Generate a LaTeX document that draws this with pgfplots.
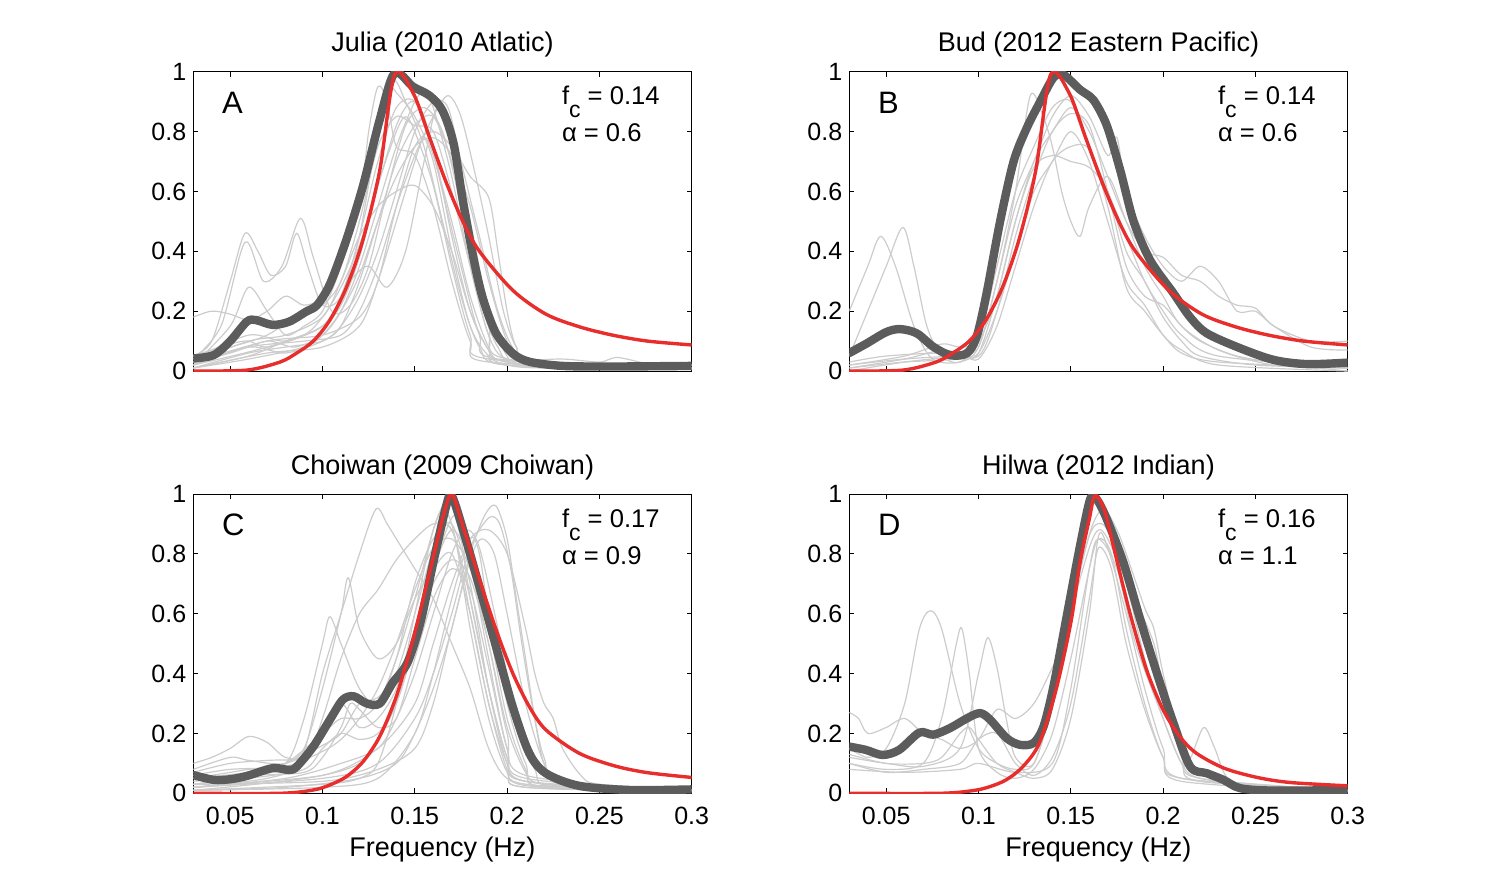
\documentclass[border=0pt]{standalone}
\usepackage{pgfplots}
\pgfplotsset{compat=1.18}
\usepackage{fontspec}
\setmainfont{Liberation Sans}
\definecolor{lgray}{RGB}{204,204,204}
\definecolor{dgray}{RGB}{92,92,92}
\definecolor{mred}{RGB}{232,45,45}
\pgfplotsset{
  panel/.style={
    scale only axis, width=249.2pt, height=149.65pt,
    xmin=0.03, xmax=0.3, ymin=0, ymax=1,
    xtick={0.05,0.1,0.15,0.2,0.25,0.3},
    xticklabels={0.05,0.1,0.15,0.2,0.25,0.3},
    ytick={0,0.2,0.4,0.6,0.8,1},
    yticklabels={0,0.2,0.4,0.6,0.8,1},
    tick align=inside, major tick length=2.5pt,
    tick style={black, line width=0.5pt},
    axis line style={black, line width=0.5pt},
    /pgf/number format/assume math mode=true,
    ticklabel style={font=\fontsize{12.5}{14}\selectfont},
    xticklabel style={yshift=-3.5pt},
    title style={at={(0.5,1)}, anchor=base, yshift=4pt, font=\fontsize{13.5}{16}\selectfont},
    xlabel style={at={(axis description cs:0.5,0)}, anchor=base, yshift=-31.5pt, font=\fontsize{13.5}{16}\selectfont},
    clip=true,
  },
  toppanel/.style={panel, xticklabels={}},
  g/.style={color=lgray, line width=0.6pt, smooth, no markers},
  dk/.style={color=dgray, line width=4.2pt, smooth, no markers, line join=round, line cap=round},
  rd/.style={color=mred, line width=1.7pt, smooth, no markers},
}
\newcommand{\annot}[3]{%
  \node[anchor=base west, inner sep=0, font=\fontsize{15.5}{17}\selectfont] at (rel axis cs:0.057,0.861) {#1};
  \node[anchor=base west, inner sep=0, font=\fontsize{12.8}{14}\selectfont] at (rel axis cs:0.739,0.889) {f\raisebox{-6.5pt}{\fontsize{11.5}{12}\selectfont c} = #2};
  \node[anchor=base west, inner sep=0, font=\fontsize{12.8}{14}\selectfont] at (rel axis cs:0.739,0.766) {α = #3};
}
\begin{document}
\begin{tikzpicture}
\path[use as bounding box] (0,0) rectangle (744.5pt,-446.5pt);

% ---------------- Panel A ----------------
\begin{axis}[toppanel, at={(96.65pt,-185.5pt)}, anchor=south west, title={Julia (2010 Atlatic)}]
\addplot[g] coordinates {(0.03,0.18)(0.04,0.2)(0.05,0.19)(0.06,0.17)(0.07,0.2)(0.08,0.25)(0.09,0.22)(0.1,0.25)(0.11,0.4)(0.12,0.6)(0.13,0.85)(0.135,0.96)(0.14,0.93)(0.15,0.85)(0.16,0.7)(0.17,0.4)(0.18,0.15)(0.19,0.05)(0.2,0.02)(0.22,0.01)(0.3,0.01)};
\addplot[g] coordinates {(0.03,0.05)(0.04,0.1)(0.05,0.3)(0.058,0.46)(0.065,0.4)(0.072,0.32)(0.08,0.35)(0.086,0.46)(0.092,0.35)(0.1,0.22)(0.11,0.25)(0.12,0.45)(0.13,0.7)(0.14,0.88)(0.15,0.9)(0.16,0.75)(0.17,0.45)(0.18,0.2)(0.19,0.07)(0.2,0.03)(0.25,0.01)(0.3,0.01)};
\addplot[g] coordinates {(0.03,0.04)(0.045,0.15)(0.058,0.43)(0.068,0.3)(0.078,0.35)(0.088,0.51)(0.095,0.38)(0.105,0.2)(0.115,0.22)(0.125,0.35)(0.135,0.6)(0.145,0.82)(0.155,0.88)(0.165,0.8)(0.175,0.55)(0.185,0.25)(0.195,0.08)(0.21,0.02)(0.3,0.01)};
\addplot[g] coordinates {(0.03,0.02)(0.05,0.15)(0.06,0.28)(0.07,0.2)(0.08,0.12)(0.09,0.15)(0.1,0.2)(0.11,0.35)(0.12,0.55)(0.125,0.8)(0.13,0.95)(0.135,0.9)(0.14,0.75)(0.15,0.72)(0.16,0.55)(0.17,0.3)(0.18,0.1)(0.19,0.03)(0.3,0.01)};
\addplot[g] coordinates {(0.03,0.01)(0.06,0.05)(0.08,0.1)(0.1,0.15)(0.11,0.25)(0.12,0.45)(0.13,0.8)(0.138,0.97)(0.145,0.9)(0.155,0.75)(0.165,0.5)(0.175,0.25)(0.185,0.08)(0.2,0.02)(0.3,0.005)};
\addplot[g] coordinates {(0.03,0.01)(0.06,0.06)(0.08,0.08)(0.1,0.1)(0.11,0.15)(0.12,0.25)(0.13,0.4)(0.14,0.6)(0.15,0.8)(0.16,0.9)(0.168,0.88)(0.175,0.7)(0.185,0.45)(0.195,0.2)(0.205,0.06)(0.22,0.02)(0.3,0.01)};
\addplot[g] coordinates {(0.03,0.02)(0.06,0.08)(0.09,0.1)(0.11,0.12)(0.12,0.2)(0.13,0.35)(0.14,0.55)(0.15,0.72)(0.16,0.85)(0.168,0.92)(0.175,0.85)(0.183,0.65)(0.19,0.45)(0.198,0.2)(0.205,0.08)(0.215,0.03)(0.3,0.02)};
\addplot[g] coordinates {(0.03,0.03)(0.07,0.1)(0.1,0.12)(0.12,0.18)(0.13,0.3)(0.14,0.55)(0.15,0.75)(0.16,0.8)(0.17,0.75)(0.18,0.65)(0.19,0.58)(0.195,0.4)(0.2,0.2)(0.205,0.08)(0.215,0.03)(0.3,0.02)};
\addplot[g] coordinates {(0.03,0.03)(0.06,0.1)(0.08,0.12)(0.1,0.18)(0.11,0.3)(0.12,0.45)(0.13,0.55)(0.14,0.6)(0.15,0.62)(0.16,0.55)(0.17,0.4)(0.18,0.2)(0.19,0.07)(0.2,0.02)(0.3,0.01)};
\addplot[g] coordinates {(0.03,0.02)(0.07,0.08)(0.1,0.15)(0.115,0.3)(0.125,0.35)(0.135,0.28)(0.145,0.4)(0.155,0.7)(0.162,0.88)(0.17,0.8)(0.18,0.5)(0.19,0.2)(0.2,0.05)(0.21,0.02)(0.3,0.01)};
\addplot[g] coordinates {(0.03,0.05)(0.05,0.08)(0.07,0.12)(0.09,0.2)(0.1,0.22)(0.11,0.3)(0.12,0.5)(0.13,0.75)(0.14,0.85)(0.15,0.82)(0.16,0.8)(0.17,0.6)(0.18,0.35)(0.19,0.12)(0.2,0.04)(0.23,0.04)(0.25,0.03)(0.26,0.045)(0.28,0.02)(0.3,0.02)};
\addplot[g] coordinates {(0.03,0.01)(0.07,0.06)(0.1,0.08)(0.12,0.15)(0.13,0.3)(0.14,0.5)(0.15,0.7)(0.155,0.78)(0.16,0.72)(0.17,0.5)(0.18,0.25)(0.19,0.08)(0.2,0.02)(0.3,0.01)};
\addplot[g] coordinates {(0.03,0.03)(0.05,0.06)(0.07,0.1)(0.085,0.08)(0.1,0.12)(0.11,0.2)(0.12,0.35)(0.13,0.55)(0.14,0.75)(0.15,0.9)(0.155,0.93)(0.16,0.88)(0.17,0.65)(0.18,0.35)(0.19,0.12)(0.2,0.03)(0.3,0.01)};
\addplot[g] coordinates {(0.03,0.02)(0.06,0.08)(0.08,0.06)(0.1,0.1)(0.11,0.15)(0.12,0.3)(0.13,0.5)(0.14,0.7)(0.15,0.82)(0.16,0.85)(0.17,0.7)(0.18,0.45)(0.19,0.15)(0.2,0.04)(0.3,0.01)};
\addplot[g] coordinates {(0.03,0.04)(0.06,0.12)(0.08,0.1)(0.1,0.15)(0.11,0.22)(0.12,0.38)(0.13,0.62)(0.14,0.8)(0.145,0.85)(0.15,0.8)(0.16,0.62)(0.17,0.35)(0.18,0.12)(0.19,0.04)(0.3,0.01)};
\addplot[g] coordinates {(0.03,0.01)(0.06,0.04)(0.09,0.08)(0.1,0.12)(0.11,0.2)(0.12,0.32)(0.13,0.5)(0.14,0.65)(0.15,0.75)(0.16,0.78)(0.17,0.72)(0.18,0.55)(0.19,0.3)(0.2,0.1)(0.21,0.03)(0.3,0.01)};
\addplot[g] coordinates {(0.03,0.05)(0.05,0.09)(0.06,0.1)(0.07,0.08)(0.09,0.12)(0.1,0.18)(0.11,0.28)(0.12,0.42)(0.13,0.62)(0.14,0.82)(0.148,0.9)(0.155,0.85)(0.165,0.6)(0.175,0.35)(0.185,0.12)(0.195,0.04)(0.3,0.01)};
\addplot[dk] coordinates {(0.03,0.042)(0.041,0.053)(0.05,0.10)(0.059,0.165)(0.064,0.17)(0.073,0.154)(0.082,0.165)(0.091,0.198)(0.097,0.22)(0.104,0.29)(0.113,0.44)(0.122,0.62)(0.131,0.84)(0.139,0.995)(0.149,0.95)(0.158,0.92)(0.165,0.87)(0.171,0.76)(0.176,0.57)(0.182,0.37)(0.187,0.24)(0.194,0.126)(0.203,0.059)(0.212,0.031)(0.23,0.017)(0.257,0.015)(0.3,0.017)};
\addplot[rd] coordinates {(0.03,0)(0.059,0.003)(0.077,0.03)(0.086,0.06)(0.095,0.10)(0.104,0.17)(0.113,0.28)(0.122,0.44)(0.131,0.67)(0.139,0.99)(0.149,0.93)(0.158,0.78)(0.167,0.63)(0.176,0.50)(0.185,0.40)(0.203,0.27)(0.221,0.19)(0.239,0.148)(0.257,0.12)(0.276,0.10)(0.3,0.087)};
\annot{A}{0.14}{0.6}
\end{axis}

% ---------------- Panel B ----------------
\begin{axis}[toppanel, at={(424.65pt,-185.5pt)}, anchor=south west, title={Bud (2012 Eastern Pacific)}]
\addplot[g] coordinates {(0.03,0.2)(0.04,0.35)(0.047,0.45)(0.055,0.35)(0.065,0.15)(0.075,0.04)(0.09,0.03)(0.1,0.08)(0.11,0.3)(0.12,0.6)(0.128,0.92)(0.135,0.85)(0.14,0.75)(0.145,0.6)(0.15,0.5)(0.155,0.45)(0.16,0.55)(0.17,0.65)(0.18,0.5)(0.19,0.35)(0.2,0.25)(0.21,0.15)(0.23,0.07)(0.26,0.02)(0.3,0.01)};
\addplot[g] coordinates {(0.03,0.05)(0.04,0.2)(0.05,0.35)(0.059,0.48)(0.065,0.35)(0.072,0.15)(0.08,0.05)(0.09,0.03)(0.1,0.1)(0.11,0.35)(0.12,0.6)(0.13,0.75)(0.14,0.88)(0.15,0.9)(0.16,0.75)(0.17,0.6)(0.18,0.45)(0.19,0.3)(0.2,0.2)(0.21,0.12)(0.23,0.05)(0.3,0.01)};
\addplot[g] coordinates {(0.03,0.01)(0.06,0.04)(0.08,0.07)(0.09,0.06)(0.1,0.08)(0.11,0.3)(0.12,0.55)(0.13,0.7)(0.14,0.85)(0.15,0.92)(0.16,0.85)(0.17,0.72)(0.175,0.78)(0.18,0.6)(0.19,0.45)(0.2,0.35)(0.21,0.3)(0.22,0.35)(0.23,0.3)(0.24,0.2)(0.25,0.2)(0.26,0.15)(0.28,0.08)(0.3,0.07)};
\addplot[g] coordinates {(0.03,0.02)(0.06,0.05)(0.08,0.09)(0.09,0.08)(0.1,0.1)(0.11,0.25)(0.12,0.5)(0.13,0.7)(0.14,0.8)(0.15,0.88)(0.16,0.8)(0.17,0.65)(0.18,0.5)(0.19,0.4)(0.2,0.38)(0.21,0.32)(0.22,0.3)(0.23,0.25)(0.24,0.22)(0.25,0.21)(0.26,0.15)(0.28,0.1)(0.3,0.1)};
\addplot[g] coordinates {(0.03,0.0)(0.06,0.03)(0.09,0.05)(0.1,0.06)(0.11,0.2)(0.12,0.4)(0.13,0.6)(0.14,0.7)(0.15,0.8)(0.16,0.7)(0.17,0.5)(0.18,0.3)(0.19,0.22)(0.2,0.12)(0.21,0.07)(0.23,0.02)(0.3,0.0)};
\addplot[g] coordinates {(0.03,0.01)(0.06,0.03)(0.09,0.04)(0.1,0.06)(0.11,0.25)(0.12,0.5)(0.13,0.68)(0.14,0.72)(0.15,0.7)(0.16,0.68)(0.17,0.6)(0.18,0.4)(0.19,0.3)(0.2,0.18)(0.21,0.1)(0.22,0.05)(0.25,0.02)(0.3,0.01)};
\addplot[g] coordinates {(0.03,0.03)(0.05,0.05)(0.08,0.06)(0.1,0.05)(0.11,0.2)(0.12,0.45)(0.13,0.65)(0.14,0.8)(0.15,0.86)(0.16,0.82)(0.17,0.6)(0.18,0.35)(0.19,0.25)(0.2,0.22)(0.21,0.15)(0.22,0.1)(0.24,0.05)(0.27,0.02)(0.3,0.0)};
\addplot[g] coordinates {(0.03,0.02)(0.06,0.04)(0.09,0.05)(0.1,0.04)(0.11,0.15)(0.12,0.35)(0.13,0.55)(0.14,0.7)(0.15,0.75)(0.16,0.74)(0.17,0.55)(0.18,0.28)(0.19,0.2)(0.2,0.12)(0.21,0.06)(0.23,0.03)(0.3,0.01)};
\addplot[dk] coordinates {(0.03,0.06)(0.0394,0.092)(0.05,0.13)(0.0575,0.14)(0.0665,0.126)(0.0755,0.081)(0.0846,0.053)(0.0936,0.059)(0.099,0.115)(0.1044,0.26)(0.1117,0.50)(0.119,0.70)(0.126,0.81)(0.1334,0.90)(0.1406,0.98)(0.146,0.99)(0.155,0.94)(0.1623,0.905)(0.1695,0.82)(0.1768,0.67)(0.184,0.50)(0.193,0.37)(0.2056,0.26)(0.2146,0.18)(0.2237,0.126)(0.2418,0.076)(0.26,0.037)(0.278,0.023)(0.3,0.028)};
\addplot[rd] coordinates {(0.03,0)(0.059,0.003)(0.077,0.03)(0.086,0.06)(0.095,0.10)(0.104,0.17)(0.113,0.28)(0.122,0.44)(0.131,0.67)(0.139,0.99)(0.149,0.93)(0.158,0.78)(0.167,0.63)(0.176,0.50)(0.185,0.40)(0.203,0.27)(0.221,0.19)(0.239,0.148)(0.257,0.12)(0.276,0.10)(0.3,0.087)};
\annot{B}{0.14}{0.6}
\end{axis}

% ---------------- Panel C ----------------
\begin{axis}[panel, at={(96.65pt,-396.65pt)}, anchor=south west, title={Choiwan (2009 Choiwan)}, xlabel={Frequency (Hz)}]
\addplot[g] coordinates {(0.03,0.1)(0.04,0.12)(0.05,0.15)(0.06,0.19)(0.07,0.17)(0.08,0.12)(0.09,0.14)(0.1,0.4)(0.11,0.6)(0.12,0.8)(0.129,0.95)(0.135,0.9)(0.14,0.85)(0.15,0.75)(0.16,0.65)(0.17,0.5)(0.18,0.35)(0.19,0.15)(0.2,0.05)(0.22,0.02)(0.3,0.01)};
\addplot[g] coordinates {(0.03,0.03)(0.06,0.06)(0.08,0.1)(0.09,0.15)(0.1,0.35)(0.11,0.6)(0.114,0.72)(0.12,0.55)(0.13,0.45)(0.14,0.5)(0.15,0.65)(0.16,0.75)(0.17,0.8)(0.18,0.6)(0.19,0.3)(0.2,0.08)(0.21,0.02)(0.3,0.01)};
\addplot[g] coordinates {(0.03,0.05)(0.06,0.08)(0.08,0.1)(0.09,0.25)(0.1,0.5)(0.104,0.59)(0.11,0.5)(0.12,0.35)(0.13,0.3)(0.14,0.45)(0.15,0.7)(0.16,0.85)(0.17,0.9)(0.18,0.7)(0.19,0.35)(0.2,0.1)(0.21,0.03)(0.3,0.01)};
\addplot[g] coordinates {(0.03,0.02)(0.07,0.05)(0.09,0.1)(0.1,0.25)(0.11,0.45)(0.12,0.6)(0.13,0.68)(0.14,0.78)(0.15,0.85)(0.16,0.9)(0.17,0.88)(0.18,0.65)(0.19,0.35)(0.2,0.12)(0.21,0.04)(0.3,0.01)};
\addplot[g] coordinates {(0.03,0.01)(0.08,0.02)(0.12,0.05)(0.14,0.1)(0.15,0.2)(0.16,0.35)(0.17,0.55)(0.18,0.8)(0.188,0.93)(0.194,0.96)(0.2,0.85)(0.205,0.65)(0.21,0.45)(0.215,0.25)(0.22,0.1)(0.23,0.03)(0.3,0.01)};
\addplot[g] coordinates {(0.03,0.02)(0.1,0.05)(0.13,0.1)(0.15,0.25)(0.16,0.4)(0.17,0.6)(0.18,0.82)(0.19,0.92)(0.196,0.9)(0.202,0.75)(0.208,0.5)(0.214,0.28)(0.22,0.12)(0.23,0.04)(0.3,0.01)};
\addplot[g] coordinates {(0.03,0.01)(0.1,0.06)(0.13,0.15)(0.15,0.3)(0.16,0.5)(0.17,0.7)(0.18,0.85)(0.19,0.88)(0.2,0.8)(0.21,0.55)(0.215,0.4)(0.22,0.3)(0.225,0.25)(0.23,0.15)(0.24,0.06)(0.25,0.03)(0.3,0.01)};
\addplot[g] coordinates {(0.03,0.05)(0.06,0.07)(0.08,0.1)(0.1,0.2)(0.11,0.25)(0.12,0.25)(0.13,0.3)(0.14,0.45)(0.15,0.65)(0.16,0.88)(0.168,0.98)(0.175,0.85)(0.18,0.65)(0.19,0.35)(0.2,0.12)(0.21,0.04)(0.3,0.01)};
\addplot[g] coordinates {(0.03,0.01)(0.1,0.03)(0.12,0.05)(0.13,0.1)(0.14,0.3)(0.15,0.6)(0.16,0.88)(0.166,0.95)(0.172,0.85)(0.18,0.55)(0.19,0.25)(0.2,0.07)(0.21,0.02)(0.3,0.005)};
\addplot[g] coordinates {(0.03,0.07)(0.05,0.1)(0.07,0.11)(0.09,0.12)(0.1,0.2)(0.11,0.3)(0.12,0.22)(0.13,0.25)(0.14,0.35)(0.15,0.55)(0.16,0.75)(0.17,0.88)(0.18,0.78)(0.19,0.55)(0.2,0.25)(0.21,0.08)(0.22,0.02)(0.3,0.01)};
\addplot[g] coordinates {(0.03,0.01)(0.1,0.02)(0.13,0.05)(0.15,0.2)(0.16,0.4)(0.17,0.65)(0.18,0.85)(0.185,0.8)(0.19,0.6)(0.2,0.3)(0.21,0.1)(0.22,0.03)(0.3,0.01)};
\addplot[g] coordinates {(0.03,0.03)(0.06,0.05)(0.09,0.08)(0.1,0.15)(0.11,0.2)(0.12,0.18)(0.13,0.2)(0.14,0.3)(0.15,0.5)(0.16,0.7)(0.17,0.78)(0.18,0.72)(0.19,0.5)(0.2,0.22)(0.21,0.07)(0.22,0.02)(0.3,0.01)};
\addplot[g] coordinates {(0.03,0.04)(0.06,0.06)(0.09,0.07)(0.1,0.12)(0.11,0.22)(0.115,0.3)(0.12,0.28)(0.13,0.22)(0.14,0.25)(0.15,0.45)(0.16,0.65)(0.17,0.75)(0.18,0.68)(0.19,0.42)(0.2,0.15)(0.21,0.05)(0.3,0.01)};
\addplot[g] coordinates {(0.03,0.02)(0.07,0.04)(0.1,0.06)(0.12,0.1)(0.13,0.18)(0.14,0.3)(0.15,0.5)(0.16,0.75)(0.17,0.92)(0.175,0.9)(0.18,0.78)(0.19,0.45)(0.2,0.15)(0.21,0.04)(0.3,0.01)};
\addplot[g] coordinates {(0.03,0.06)(0.05,0.08)(0.08,0.09)(0.1,0.14)(0.11,0.18)(0.12,0.25)(0.13,0.35)(0.14,0.5)(0.15,0.68)(0.16,0.82)(0.17,0.85)(0.18,0.75)(0.19,0.5)(0.2,0.2)(0.21,0.06)(0.3,0.01)};
\addplot[g] coordinates {(0.03,0.02)(0.08,0.05)(0.11,0.1)(0.13,0.15)(0.14,0.25)(0.15,0.4)(0.16,0.6)(0.17,0.8)(0.178,0.88)(0.185,0.82)(0.195,0.55)(0.205,0.25)(0.215,0.08)(0.225,0.02)(0.3,0.01)};
\addplot[g] coordinates {(0.03,0.08)(0.05,0.12)(0.06,0.11)(0.08,0.1)(0.1,0.16)(0.11,0.2)(0.12,0.3)(0.13,0.32)(0.14,0.4)(0.15,0.6)(0.16,0.82)(0.165,0.9)(0.172,0.85)(0.18,0.6)(0.19,0.3)(0.2,0.1)(0.21,0.03)(0.3,0.01)};
\addplot[g] coordinates {(0.03,0.03)(0.1,0.04)(0.13,0.08)(0.15,0.15)(0.16,0.3)(0.17,0.55)(0.18,0.78)(0.186,0.85)(0.193,0.8)(0.2,0.6)(0.21,0.3)(0.22,0.1)(0.23,0.03)(0.3,0.01)};
\addplot[dk] coordinates {(0.03,0.061)(0.041,0.045)(0.05,0.047)(0.059,0.058)(0.073,0.084)(0.082,0.078)(0.086,0.089)(0.095,0.156)(0.104,0.246)(0.111,0.313)(0.117,0.324)(0.124,0.30)(0.131,0.30)(0.138,0.369)(0.146,0.436)(0.153,0.57)(0.16,0.771)(0.167,0.96)(0.17,0.994)(0.176,0.883)(0.185,0.69)(0.194,0.49)(0.203,0.29)(0.212,0.134)(0.221,0.067)(0.239,0.025)(0.267,0.011)(0.3,0.013)};
\addplot[rd] coordinates {(0.03,0)(0.077,0.0)(0.095,0.011)(0.104,0.028)(0.113,0.056)(0.122,0.106)(0.131,0.19)(0.14,0.324)(0.149,0.514)(0.158,0.737)(0.165,0.916)(0.17,1.0)(0.176,0.894)(0.185,0.715)(0.194,0.547)(0.203,0.402)(0.212,0.29)(0.221,0.212)(0.239,0.134)(0.258,0.092)(0.276,0.069)(0.3,0.053)};
\annot{C}{0.17}{0.9}
\end{axis}

% ---------------- Panel D ----------------
\begin{axis}[panel, at={(424.65pt,-396.65pt)}, anchor=south west, title={Hilwa (2012 Indian)}, xlabel={Frequency (Hz)}]
\addplot[g] coordinates {(0.03,0.15)(0.04,0.12)(0.05,0.15)(0.06,0.3)(0.068,0.55)(0.074,0.61)(0.08,0.55)(0.09,0.3)(0.1,0.15)(0.11,0.1)(0.12,0.08)(0.13,0.1)(0.14,0.3)(0.15,0.6)(0.16,0.82)(0.165,0.88)(0.17,0.85)(0.18,0.7)(0.19,0.45)(0.2,0.25)(0.21,0.1)(0.22,0.04)(0.3,0.01)};
\addplot[g] coordinates {(0.03,0.1)(0.05,0.08)(0.07,0.1)(0.08,0.25)(0.088,0.5)(0.091,0.55)(0.095,0.4)(0.1,0.15)(0.11,0.07)(0.12,0.05)(0.13,0.08)(0.14,0.2)(0.15,0.45)(0.16,0.75)(0.165,0.85)(0.172,0.8)(0.18,0.55)(0.19,0.3)(0.2,0.12)(0.21,0.05)(0.3,0.01)};
\addplot[g] coordinates {(0.03,0.12)(0.05,0.1)(0.07,0.09)(0.09,0.15)(0.1,0.4)(0.105,0.52)(0.11,0.42)(0.115,0.25)(0.12,0.12)(0.13,0.1)(0.14,0.3)(0.15,0.6)(0.16,0.86)(0.167,0.9)(0.175,0.82)(0.185,0.65)(0.195,0.5)(0.2,0.35)(0.21,0.12)(0.22,0.05)(0.3,0.01)};
\addplot[g] coordinates {(0.03,0.27)(0.035,0.25)(0.04,0.2)(0.05,0.22)(0.06,0.25)(0.07,0.2)(0.08,0.18)(0.09,0.15)(0.1,0.18)(0.11,0.28)(0.12,0.25)(0.13,0.3)(0.14,0.42)(0.148,0.53)(0.155,0.75)(0.162,0.9)(0.168,0.95)(0.175,0.88)(0.18,0.8)(0.19,0.62)(0.195,0.55)(0.2,0.4)(0.21,0.15)(0.22,0.05)(0.3,0.01)};
\addplot[g] coordinates {(0.03,0.08)(0.06,0.07)(0.09,0.08)(0.1,0.1)(0.12,0.07)(0.14,0.1)(0.15,0.35)(0.16,0.75)(0.165,0.85)(0.175,0.75)(0.185,0.5)(0.2,0.25)(0.21,0.1)(0.215,0.12)(0.222,0.22)(0.228,0.15)(0.235,0.05)(0.25,0.02)(0.3,0.01)};
\addplot[g] coordinates {(0.03,0.1)(0.05,0.07)(0.07,0.08)(0.09,0.1)(0.1,0.18)(0.11,0.2)(0.12,0.1)(0.13,0.06)(0.14,0.12)(0.15,0.3)(0.16,0.65)(0.165,0.82)(0.172,0.75)(0.18,0.5)(0.19,0.28)(0.2,0.12)(0.21,0.04)(0.3,0.005)};
\addplot[g] coordinates {(0.03,0.13)(0.05,0.1)(0.07,0.1)(0.08,0.12)(0.09,0.2)(0.095,0.22)(0.1,0.18)(0.11,0.1)(0.12,0.07)(0.13,0.05)(0.14,0.08)(0.15,0.25)(0.16,0.6)(0.165,0.86)(0.17,0.82)(0.18,0.6)(0.19,0.35)(0.2,0.15)(0.21,0.05)(0.3,0.005)};
\addplot[dk] coordinates {(0.03,0.156)(0.039,0.145)(0.048,0.128)(0.057,0.145)(0.068,0.203)(0.0755,0.196)(0.0846,0.218)(0.0936,0.25)(0.1008,0.268)(0.1063,0.246)(0.1153,0.184)(0.1225,0.162)(0.1298,0.168)(0.1352,0.223)(0.1406,0.357)(0.1478,0.592)(0.155,0.827)(0.1605,0.983)(0.164,0.983)(0.1695,0.916)(0.1785,0.771)(0.1876,0.581)(0.1966,0.402)(0.2056,0.235)(0.2147,0.089)(0.2237,0.067)(0.2327,0.045)(0.2418,0.017)(0.26,0.009)(0.3,0.011)};
\addplot[rd] coordinates {(0.03,0)(0.079,0)(0.097,0.009)(0.106,0.022)(0.115,0.045)(0.124,0.089)(0.133,0.168)(0.142,0.346)(0.15,0.57)(0.155,0.77)(0.16,0.916)(0.163,0.994)(0.168,0.95)(0.173,0.827)(0.182,0.603)(0.191,0.413)(0.2,0.279)(0.209,0.19)(0.218,0.134)(0.233,0.084)(0.251,0.053)(0.269,0.036)(0.3,0.025)};
\annot{D}{0.16}{1.1}
\end{axis}
\end{tikzpicture}
\end{document}
